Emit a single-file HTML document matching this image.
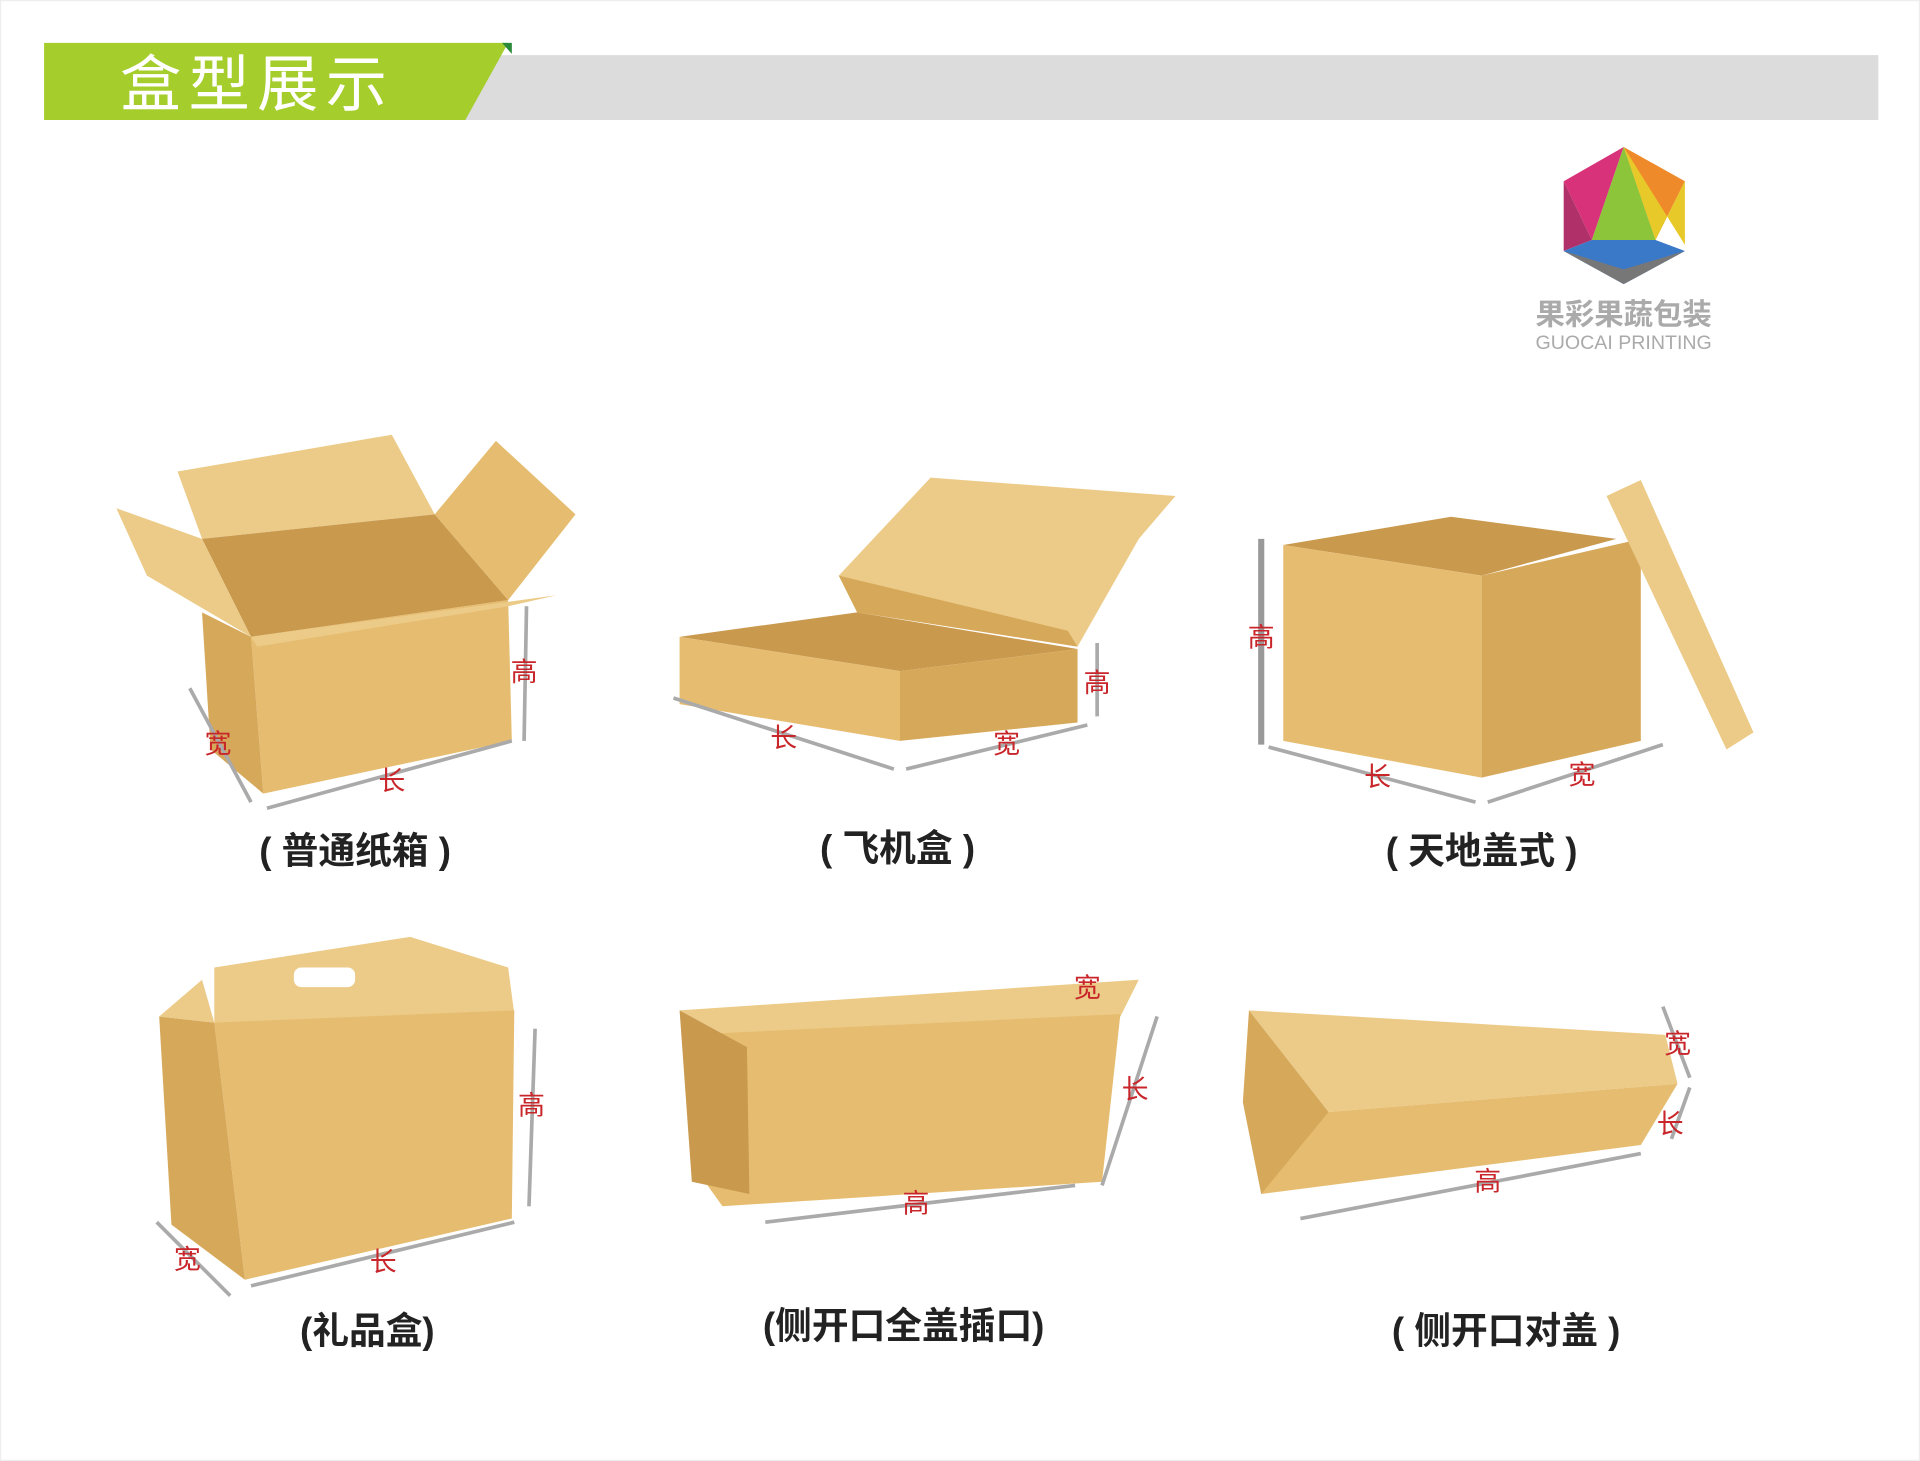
<!DOCTYPE html>
<html><head><meta charset="utf-8"><style>
html,body{margin:0;padding:0;background:#fff;}
svg{display:block;}
.cap{font-family:"Liberation Sans","Noto Sans CJK SC",sans-serif;font-weight:bold;font-size:30px;fill:#222;text-anchor:middle;}
.lb{font-family:"Liberation Sans","Noto Sans CJK SC",sans-serif;font-size:22px;fill:#c8262a;text-anchor:middle;}
.ar{stroke:#aaa;stroke-width:3;fill:none;}
.f1{fill:#e6bd70;}
.f2{fill:#d6a85a;}
.f3{fill:#c9994e;}
.f4{fill:#eccb88;}
</style></head><body>
<svg width="1920" height="1461" viewBox="0 0 1568 1193" preserveAspectRatio="none">
<rect x="0" y="0" width="1568" height="1193" fill="#fff"/>
<rect x="0.5" y="0.5" width="1567" height="1192" fill="none" stroke="#eee"/>
<!-- header -->
<polygon points="380,45 1534,45 1534,98 360,98" fill="#dcdcdc"/>
<polygon points="36,35 415,35 380,98 36,98" fill="#a5cd2b"/>
<polygon points="410,35 418,35 418,44" fill="#2a8a3a"/>
<text x="210" y="86" font-family="'Liberation Sans','Noto Sans CJK SC',sans-serif" font-size="50" fill="#fff" text-anchor="middle" letter-spacing="6">盒型展示</text>
<!-- logo -->
<polygon points="1326,120 1277,148 1300,196" fill="#d8337a"/>
<polygon points="1326,120 1376,148 1352,196" fill="#ee8a2a"/>
<polygon points="1326,120 1300,196 1352,196" fill="#8cc43a"/>
<polygon points="1326,120 1352,196 1376,148 1376,200" fill="#e8c92a"/>
<polygon points="1277,148 1300,196 1277,205" fill="#b0306a"/>
<polygon points="1277,205 1300,196 1352,196 1376,205 1326,232" fill="#3a78c8"/>
<polygon points="1277,205 1326,232 1376,205 1326,220" fill="#777"/>
<text x="1326" y="265" font-family="'Liberation Sans','Noto Sans CJK SC',sans-serif" font-size="24" font-weight="bold" fill="#aaa" text-anchor="middle">果彩果蔬包装</text>
<text x="1326" y="285" font-family="'Liberation Sans',sans-serif" font-size="16" fill="#aaa" text-anchor="middle">GUOCAI PRINTING</text>

<!-- box1 -->
<polygon class="f4" points="145,385 320,355 355,420 165,440"/>
<polygon class="f1" points="355,420 405,360 470,420 415,490"/>
<polygon class="f3" points="165,440 355,420 415,490 205,520"/>
<polygon class="f4" points="95,415 165,440 205,520 120,470"/>
<polygon class="f1" points="205,520 415,490 418,605 215,648"/>
<polygon class="f2" points="165,500 205,520 215,648 172,612"/>
<polygon class="f4" points="205,520 455,486 415,495 210,528"/>
<path class="ar" d="M155,562 L205,655 M218,660 L418,605 M430,495 L428,605"/>
<text class="lb" x="428" y="556">高</text><text class="lb" x="178" y="615">宽</text><text class="lb" x="320" y="645">长</text>
<text class="cap" x="290" y="705">( 普通纸箱 )</text>

<!-- box2 -->
<polygon class="f4" points="685,470 760,390 960,405 930,440 880,528 700,500"/>
<polygon class="f2" points="685,470 700,500 880,528 872,515"/>
<polygon class="f3" points="555,520 700,500 880,530 735,548"/>
<polygon class="f1" points="555,520 735,548 735,605 555,575"/>
<polygon class="f2" points="735,548 880,530 880,590 735,605"/>
<path class="ar" d="M550,570 L730,628 M740,628 L888,592 M896,525 L896,585"/>
<text class="lb" x="896" y="565">高</text><text class="lb" x="640" y="610">长</text><text class="lb" x="822" y="615">宽</text>
<text class="cap" x="733" y="703">( 飞机盒 )</text>

<!-- box3 -->
<polygon class="f3" points="1048,445 1185,422 1320,440 1210,470"/>
<polygon class="f1" points="1048,445 1210,470 1210,635 1048,605"/>
<polygon class="f2" points="1210,470 1340,440 1340,605 1210,635"/>
<polygon class="f4" points="1312,405 1340,392 1432,598 1410,612"/>
<path d="M1030,440 L1030,608" stroke="#999" stroke-width="5"/>
<path class="ar" d="M1036,610 L1205,655 M1215,655 L1358,608"/>
<text class="lb" x="1030" y="528">高</text><text class="lb" x="1125" y="642">长</text><text class="lb" x="1292" y="640">宽</text>
<text class="cap" x="1210" y="705">( 天地盖式 )</text>

<!-- box4 -->
<polygon class="f4" points="175,790 335,765 415,790 420,828 175,838"/>
<rect x="240" y="790" width="50" height="16" rx="6" fill="#fff"/>
<polygon class="f1" points="175,835 420,825 418,995 200,1045"/>
<polygon class="f2" points="130,830 175,835 200,1045 140,1000"/>
<polygon class="f4" points="130,830 165,800 175,835"/>
<path class="ar" d="M437,840 L432,985 M205,1050 L420,998 M128,998 L188,1058"/>
<text class="lb" x="434" y="910">高</text><text class="lb" x="153" y="1036">宽</text><text class="lb" x="313" y="1038">长</text>
<text class="cap" x="300" y="1097">(礼品盒)</text>

<!-- box5 -->
<polygon class="f4" points="555,825 930,800 915,830 610,855"/>
<polygon class="f1" points="560,845 915,828 900,965 590,985 565,950"/>
<polygon class="f3" points="555,825 610,855 612,975 565,965"/>
<path class="ar" d="M945,830 L900,968 M625,998 L878,968"/>
<text class="lb" x="888" y="814">宽</text><text class="lb" x="927" y="897">长</text><text class="lb" x="748" y="990">高</text>
<text class="cap" x="738" y="1093">(侧开口全盖插口)</text>

<!-- box6 -->
<polygon class="f4" points="1020,825 1360,845 1370,885 1085,908"/>
<polygon class="f1" points="1020,895 1085,908 1370,885 1340,935 1030,975"/>
<polygon class="f2" points="1020,825 1085,908 1030,975 1015,900"/>
<path class="ar" d="M1062,995 L1340,942 M1358,822 L1380,880 M1380,888 L1365,930"/>
<text class="lb" x="1215" y="972">高</text><text class="lb" x="1370" y="860">宽</text><text class="lb" x="1364" y="925">长</text>
<text class="cap" x="1230" y="1097">( 侧开口对盖 )</text>
</svg>
</body></html>
